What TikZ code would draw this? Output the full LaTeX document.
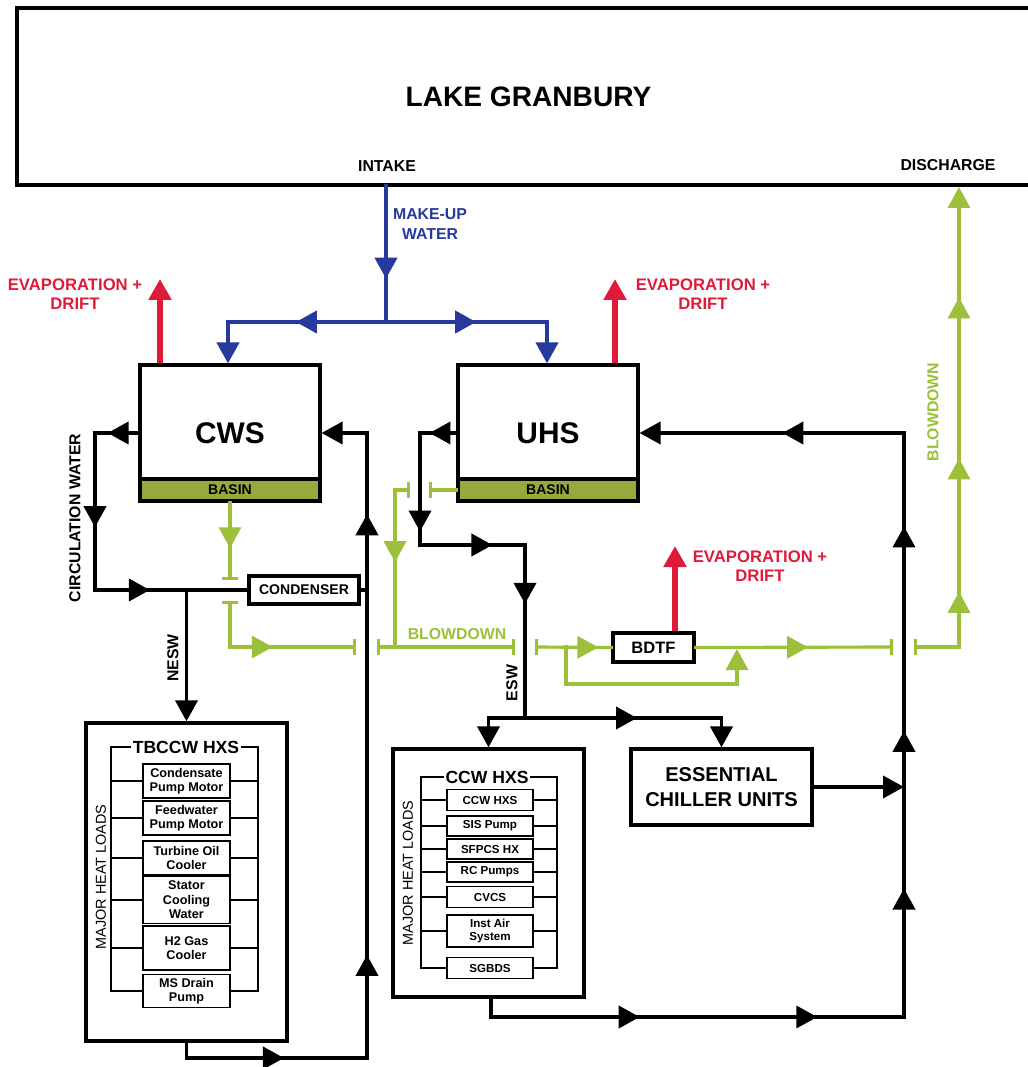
\documentclass[tikz,border=0pt]{standalone}
\usepackage{fontspec}
\setmainfont{Liberation Sans}
\usepackage{xcolor}
\usepackage{tikz}
\usetikzlibrary{arrows.meta, positioning, decorations.markings, calc}

\definecolor{bdgreen}{RGB}{156,192,58}
\definecolor{basinol}{RGB}{152,168,60}
\definecolor{evapred}{RGB}{222,28,58}
\definecolor{mublue}{RGB}{38,58,158}

\tikzset{
  flow/.tip={Triangle[length=4.2mm, width=4.4mm]},
  tee/.tip={Bar[width=3.2mm]},
  flowmark/.style={postaction={decorate, decoration={markings, mark=at position #1 with {\arrow{flow}}}}},
  bline/.style={black, line width=2.2pt, line cap=rect},
  gline/.style={bdgreen, line width=1.8pt, line cap=rect},
  rline/.style={evapred, line width=3.2pt},
  uline/.style={mublue, line width=2.4pt, line cap=rect},
  plantbox/.style={draw, fill=white, line width=1.8pt, minimum width=36mm, minimum height=27.2mm, font=\fontsize{17}{20}\selectfont\bfseries},
  basinbox/.style={draw, fill=basinol, line width=1.8pt, minimum width=36mm, minimum height=4.4mm, inner sep=0pt, font=\fontsize{8}{9}\selectfont\bfseries},
  unitbox/.style={draw, fill=white, line width=1.8pt, inner sep=0pt, align=center},
  hxbox/.style={draw, line width=1.9pt, inner sep=0pt},
  itembox/.style={draw, fill=white, line width=0.8pt, inner sep=0pt, align=center},
  rung/.style={line width=0.7pt},
  hxtitle/.style={fill=white, inner sep=1pt, font=\fontsize{10}{11}\selectfont\bfseries},
  sidelabel/.style={rotate=90, font=\fontsize{8.2}{9}\selectfont},
  lbl/.style={font=\fontsize{9}{11}\selectfont\bfseries},
  evlabel/.style={text=evapred, align=center, font=\fontsize{9.5}{10.8}\selectfont\bfseries},
}

\begin{document}
\begin{tikzpicture}[x=0.2mm, y=-0.2mm]
  % canvas in pixels of the drawing, y runs downwards
  \useasboundingbox[fill=white] (0,0) rectangle (1027,1067);

  % lake
  \node[draw, line width=1.8pt, minimum width=204.6mm, minimum height=35.4mm, font=\fontsize{16}{19}\selectfont\bfseries] (lake) at (528.5,96.5) {LAKE GRANBURY};
  \node[lbl] (intake) at (387,166) {INTAKE};
  \node[lbl] (discharge) at (948,165) {DISCHARGE};

  % cooling towers with basins
  \node[plantbox] (cws) at (230,433) {CWS};
  \node[basinbox] (cwsbasin) at (230,490) {BASIN};
  \node[plantbox] (uhs) at (548,433) {UHS};
  \node[basinbox] (uhsbasin) at (548,490) {BASIN};

  % units
  \node[unitbox, minimum width=22mm, minimum height=5.6mm, font=\fontsize{8}{9}\selectfont\bfseries] (condenser) at (304,590) {CONDENSER};
  \node[unitbox, minimum width=16.2mm, minimum height=5.8mm, font=\fontsize{9.4}{10}\selectfont\bfseries] (bdtf) at (653.5,647.5) {BDTF};
  \node[unitbox, minimum width=36.2mm, minimum height=15.2mm, font=\fontsize{11.4}{14}\selectfont\bfseries] (chiller) at (721.5,787) {ESSENTIAL\\CHILLER UNITS};
  \node[hxbox, minimum width=40.2mm, minimum height=63.6mm] (tbccw) at (186.5,882) {};
  \node[hxbox, minimum width=38.2mm, minimum height=49.6mm] (ccw) at (488.5,873) {};

  % make-up water
  \coordinate (mu) at (386,322);
  \coordinate (mul) at (228,322);
  \coordinate (mur) at (547,322);
  \draw[uline, flowmark=0.68] (lake.south -| mu) -- (mu);
  \draw[uline, flowmark=0.57] (mu) -- (mul);
  \draw[uline, flowmark=0.56] (mu) -- (mur);
  \draw[uline, -{flow}] (mul) -- (cws.north -| mul);
  \draw[uline, -{flow}] (mur) -- (uhs.north -| mur);
  \node[lbl, text=mublue, align=center] (mutxt) at (430,224) {MAKE-UP\\WATER};

  % evaporation + drift
  \coordinate (cwsev) at (160,279);
  \coordinate (uhsev) at (615,279);
  \coordinate (bdtfev) at (675,546);
  \draw[rline, -{flow}] (cws.north -| cwsev) -- (cwsev);
  \draw[rline, -{flow}] (uhs.north -| uhsev) -- (uhsev);
  \draw[rline, -{flow}] (bdtf.north -| bdtfev) -- (bdtfev);
  \node[evlabel] (cwsevtxt) at (75,294) {EVAPORATION +\\DRIFT};
  \node[evlabel] (uhsevtxt) at (703,294) {EVAPORATION +\\DRIFT};
  \node[evlabel] (bdtfevtxt) at (760,566) {EVAPORATION +\\DRIFT};

  % circulation water / NESW loop
  \coordinate (cw1) at (95,433);
  \coordinate (cw2) at (95,590);
  \coordinate (nesw) at (tbccw.north |- condenser.west);
  \coordinate (cr0) at (186.5,1058);
  \coordinate (cr1) at (367,1058);
  \coordinate (cr2) at (367,433);
  \draw[bline, flowmark=0.71] (cws.west) -- (cw1);
  \draw[bline, flowmark=0.6] (cw1) -- (cw2);
  \draw[bline, flowmark=0.36] (cw2) -- (condenser.west);
  \draw[bline, -{flow}] (nesw) -- (tbccw.north);
  \draw[bline] (tbccw.south) -- (cr0);
  \draw[bline, flowmark=0.54] (cr0) -- (cr1);
  \draw[bline, flowmark=0.165, flowmark=0.87] (cr1) -- (cr2);
  \draw[bline, -{flow}] (cr2) -- (cws.east);
  \draw[bline] (condenser.east) -- (condenser.east -| cr2);
  \node[lbl, rotate=90] (cwtxt) at (75,518) {CIRCULATION WATER};
  \node[lbl, rotate=90] (nesw txt) at (173,658) {NESW};

  % ESW loop
  \coordinate (ua1) at (420,433);
  \coordinate (ua2) at (420,545);
  \coordinate (ua3) at (525,545);
  \coordinate (esw) at (525,718);
  \coordinate (ewr) at (chiller.north |- esw);
  \coordinate (ur0) at (491,1017);
  \coordinate (ur1) at (904,1017);
  \coordinate (ur2) at (904,433);
  \draw[bline, flowmark=0.74] (uhs.west) -- (ua1);
  \draw[bline, flowmark=0.88] (ua1) -- (ua2);
  \draw[bline, flowmark=0.69] (ua2) -- (ua3);
  \draw[bline, flowmark=0.34] (ua3) -- (esw);
  \draw[bline, -{flow}] (esw) -| (ccw.north);
  \draw[bline, flowmark=0.57] (esw) -- (ewr);
  \draw[bline, -{flow}] (ewr) -- (chiller.north);
  \draw[bline, -{flow}] (chiller.east) -- (chiller.east -| ur2);
  \draw[bline] (ccw.south -| ur0) -- (ur0);
  \draw[bline, flowmark=0.36, flowmark=0.79] (ur0) -- (ur1);
  \draw[bline, flowmark=0.22, flowmark=0.49, flowmark=0.84] (ur1) -- (ur2);
  \draw[bline, flowmark=0.46, -{flow}] (ur2) -- (uhs.east);
  \node[lbl, rotate=90] (esw txt) at (512,683) {ESW};

  % blowdown
  \coordinate (gc1) at (230,580);
  \coordinate (gc2) at (230,601);
  \coordinate (gc3) at (230,647);
  \coordinate (gc4) at (356,647);
  \coordinate (gc5) at (377,647);
  \coordinate (gj) at (395,647);
  \coordinate (gc6) at (515,647);
  \coordinate (gc7) at (535,647);
  \coordinate (gy1) at (566,647);
  \coordinate (gy2) at (737,649);
  \coordinate (gc8) at (893,647);
  \coordinate (gc9) at (914,647);
  \coordinate (gc10) at (959,647);
  \coordinate (dis) at (959,187);
  \coordinate (gu1) at (429,490);
  \coordinate (gu2) at (410,490);
  \coordinate (gu3) at (395,490);
  \draw[gline, flowmark=0.59, -{tee}] (cwsbasin.south -| gc1) -- (gc1);
  \draw[gline, {tee}-] (gc2) -- (gc3);
  \draw[gline, flowmark=0.34, -{tee}] (gc3) -- (gc4);
  \draw[gline, {tee}-{tee}] (gc5) -- (gc6);
  \draw[gline, -{tee}] (uhsbasin.west) -- (gu1);
  \draw[gline, {tee}-] (gu2) -- (gu3);
  \draw[gline, flowmark=0.46] (gu3) -- (gj);
  \draw[gline, {tee}-, flowmark=0.83] (gc7) -- (bdtf.west);
  \draw[gline, -{flow}] (gy1) -- ++(0,37) -| (gy2);
  \draw[gline, flowmark=0.57, -{tee}] (bdtf.east) -- (gc8);
  \draw[gline, {tee}-] (gc9) -- (gc10);
  \draw[gline, flowmark=0.12, flowmark=0.41, flowmark=0.76, -{flow}] (gc10) -- (dis);
  \node[lbl, text=bdgreen] (bdtxt) at (457,634) {BLOWDOWN};
  \node[lbl, text=bdgreen, rotate=90] (bdvtxt) at (933,412) {BLOWDOWN};

  % TBCCW heat loads
  \coordinate (tbl) at (111,747);
  \coordinate (tbr) at (258,991);
  \draw[rung] (tbl) rectangle (tbr);
  \node[hxtitle] (tbtitle) at (186,747) {TBCCW HXS};
  \begin{scope}[every node/.style={itembox, minimum width=17.4mm, font=\fontsize{7.2}{8.2}\selectfont\bfseries}]
    \node[minimum height=6.8mm] (cpm) at (186.5,781) {Condensate\\Pump Motor};
    \node[minimum height=6.8mm] (fpm) at (186.5,818) {Feedwater\\Pump Motor};
    \node[minimum height=6.8mm] (toc) at (186.5,858) {Turbine Oil\\Cooler};
    \node[minimum height=9.4mm] (scw) at (186.5,900) {Stator\\Cooling\\Water};
    \node[minimum height=8.8mm] (htwo) at (186.5,948) {H2 Gas\\Cooler};
    \node[minimum height=6.6mm] (msd) at (186.5,991) {MS Drain\\Pump};
  \end{scope}
  \draw[rung] (tbl |- cpm) -- (cpm.west) (cpm.east) -- (tbr |- cpm);
  \draw[rung] (tbl |- fpm) -- (fpm.west) (fpm.east) -- (tbr |- fpm);
  \draw[rung] (tbl |- toc) -- (toc.west) (toc.east) -- (tbr |- toc);
  \draw[rung] (tbl |- scw) -- (scw.west) (scw.east) -- (tbr |- scw);
  \draw[rung] (tbl |- htwo) -- (htwo.west) (htwo.east) -- (tbr |- htwo);
  \node[sidelabel] (tbside) at (101,877) {MAJOR HEAT LOADS};

  % CCW heat loads
  \coordinate (ccl) at (421,777);
  \coordinate (ccr) at (557,968);
  \draw[rung] (ccl) rectangle (ccr);
  \node[hxtitle] (cctitle) at (487,777) {CCW HXS};
  \begin{scope}[every node/.style={itembox, minimum width=17.2mm, font=\fontsize{6.6}{7.6}\selectfont\bfseries}]
    \node[minimum height=4.2mm] (ccwhx) at (490,800) {CCW HXS};
    \node[minimum height=4.0mm] (sis) at (490,826) {SIS Pump};
    \node[minimum height=4.0mm] (sfpcs) at (490,849) {SFPCS HX};
    \node[minimum height=4.0mm] (rcp) at (490,872) {RC Pumps};
    \node[minimum height=4.2mm] (cvcs) at (490,897) {CVCS};
    \node[minimum height=6.4mm] (inst) at (490,931) {Inst Air\\System};
    \node[minimum height=4.2mm] (sgbds) at (490,968) {SGBDS};
  \end{scope}
  \draw[rung] (ccl |- ccwhx) -- (ccwhx.west) (ccwhx.east) -- (ccr |- ccwhx);
  \draw[rung] (ccl |- sis) -- (sis.west) (sis.east) -- (ccr |- sis);
  \draw[rung] (ccl |- sfpcs) -- (sfpcs.west) (sfpcs.east) -- (ccr |- sfpcs);
  \draw[rung] (ccl |- rcp) -- (rcp.west) (rcp.east) -- (ccr |- rcp);
  \draw[rung] (ccl |- cvcs) -- (cvcs.west) (cvcs.east) -- (ccr |- cvcs);
  \draw[rung] (ccl |- inst) -- (inst.west) (inst.east) -- (ccr |- inst);
  \node[sidelabel] (ccside) at (408,873) {MAJOR HEAT LOADS};
\end{tikzpicture}
\end{document}
